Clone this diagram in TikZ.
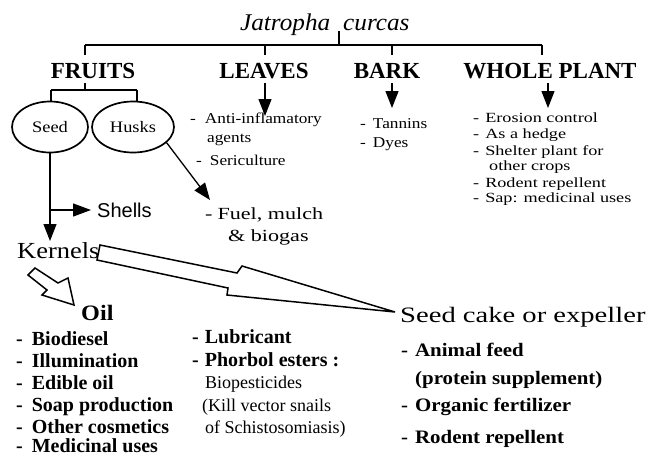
\documentclass[tikz,border=0pt]{standalone}
\usepackage{fontspec}
\setmainfont{Liberation Serif}
\newfontfamily\titlefont[FakeStretch=1.05]{Liberation Serif}
\newfontfamily\listfont[FakeStretch=1.15]{Liberation Serif}
\newfontfamily\widefont[FakeStretch=1.3]{Liberation Serif}
\newfontfamily\cakefont[FakeStretch=1.3]{Liberation Serif}
\newfontfamily\cakelist[FakeStretch=1.1]{Liberation Serif}
\newfontfamily\oilfont[FakeStretch=1.1]{Liberation Serif}
\newfontfamily\shellsfont{Liberation Sans}
\usetikzlibrary{arrows.meta,shapes.geometric}
\tikzset{
  ln/.style={line width=1.3pt},
  tri/.style={-{Triangle[length=17pt,width=13pt]}},
  headsty/.style={font=\fontsize{23}{25}\selectfont\bfseries, inner sep=0pt, anchor=base},
  txt/.style={inner sep=0pt, anchor=base west},
  leavesty/.style={txt, font=\listfont\fontsize{15}{18}\selectfont},
  wholesty/.style={txt, font=\widefont\fontsize{14}{16}\selectfont},
  fuelsty/.style={txt, font=\widefont\fontsize{17}{20}\selectfont},
  oilb/.style={txt, font=\fontsize{20}{22}\selectfont\bfseries},
  oilr/.style={txt, font=\fontsize{18}{22}\selectfont},
  cakeb/.style={txt, font=\cakelist\fontsize{19}{22}\selectfont\bfseries},
  oval/.style={ellipse, draw, line width=1.7pt, minimum height=51pt, inner sep=0pt,
               font=\listfont\fontsize{16}{18}\selectfont},
  hollow/.style={line width=1.5pt, fill=white, line join=miter}
}
\begin{document}
\begin{tikzpicture}[x=1pt,y=-1pt]
\useasboundingbox (0,0) rectangle (667,456);

% title and top bar
\node[txt, font=\titlefont\fontsize{24}{26}\selectfont\itshape] (title) at (240,30) {Jatropha\hspace{13pt}curcas};
\coordinate (tstub) at (339,31);
\coordinate (tbar) at (339,45);
\coordinate (b1) at (85,45);
\coordinate (b2) at (265,45);
\coordinate (b3) at (392,45);
\coordinate (b4) at (542,45);
\coordinate (d1) at (85,55);
\coordinate (d2) at (265,55);
\coordinate (d3) at (392,55);
\coordinate (d4) at (542,55);
\draw[ln] (tstub) -- (tbar);
\draw[ln] (b1) -- (b4);
\draw[ln] (b1) -- (d1);
\draw[ln] (b2) -- (d2);
\draw[ln] (b3) -- (d3);
\draw[ln] (b4) -- (d4);

% headings
\node[headsty] (fruits) at (93,78) {FRUITS};
\node[headsty] (leaves) at (264,78) {LEAVES};
\node[headsty] (bark) at (387,78) {BARK};
\node[headsty] (whole) at (550,78) {WHOLE PLANT};

% fruits branch
\node[oval, minimum width=76pt] (seed) at (50,127) {Seed};
\node[oval, minimum width=82pt] (husks) at (133,127) {Husks};
\coordinate (fs) at (85,83);
\coordinate (fj) at (85,90);
\coordinate (sb1) at (51,90);
\coordinate (sb2) at (137,90);
\draw[ln] (fs) -- (fj);
\draw[ln] (sb1) -- (sb2);
\draw[ln] (sb1) -- (sb1 |- seed.north);
\draw[ln] (sb2) -- (sb2 |- husks.north);

% seed -> kernels, shells
\coordinate (kertip) at (50,241);
\coordinate (shj) at (50,210);
\coordinate (shtip) at (91,210);
\draw[ln,tri] (seed.south) -- (kertip);
\draw[ln,-{Triangle[length=18pt,width=13pt]}] (shj) -- (shtip);
\node[txt, font=\shellsfont\fontsize{20}{22}\selectfont] (shells) at (97,217) {Shells};
\node[txt, font=\listfont\fontsize{23}{25}\selectfont] (kernels) at (17,258) {Kernels};

% husks -> fuel
\coordinate (fueltip) at (210,200);
\draw[ln,tri] (husks.-25) -- (fueltip);
\node[fuelsty] (fuel1) at (205,219) {-\hspace{5pt}Fuel, mulch};
\node[fuelsty] (fuel2) at (228,241) {\& biogas};

% leaves
\coordinate (lvs) at (265,83);
\coordinate (lvtip) at (265,116);
\draw[ln,tri] (lvs) -- (lvtip);
\node[leavesty] (anti) at (190,123) {-\hspace{9pt}Anti-inflamatory};
\node[leavesty] (agents) at (207,142) {agents};
\node[leavesty] (seri) at (196,165) {-\hspace{8pt}Sericulture};

% bark
\coordinate (bks) at (392,83);
\coordinate (bktip) at (392,108);
\draw[ln,tri] (bks) -- (bktip);
\node[leavesty] (tann) at (360,128) {-\hspace{7pt}Tannins};
\node[leavesty] (dyes) at (360,147) {-\hspace{7pt}Dyes};

% whole plant
\coordinate (wps) at (548,83);
\coordinate (wptip) at (548,108);
\draw[ln,tri] (wps) -- (wptip);
\node[wholesty] (w1) at (473,122) {-\hspace{6pt}Erosion control};
\node[wholesty] (w2) at (473,138) {-\hspace{6pt}As a hedge};
\node[wholesty] (w3) at (473,155) {-\hspace{6pt}Shelter plant for};
\node[wholesty] (w4) at (489,170) {other crops};
\node[wholesty] (w5) at (473,187) {-\hspace{6pt}Rodent repellent};
\node[wholesty] (w6) at (473,202) {-\hspace{6pt}Sap: medicinal uses};

% hollow arrows
\draw[hollow] (35,268) -- (58,283) -- (68,278) -- (74,305) -- (42,295) -- (47,290) -- (28,275) -- cycle;
\draw[hollow] (100,245) -- (237,273) -- (242,266) -- (395,312) -- (227,295) -- (228,288) -- (97,260) -- cycle;

% oil
\node[txt, font=\oilfont\fontsize{22}{24}\selectfont\bfseries] (oil) at (81,320) {Oil};
\node[oilb] (o1) at (16,345) {-\hspace{9pt}Biodiesel};
\node[oilb] (o2) at (16,367) {-\hspace{9pt}Illumination};
\node[oilb] (o3) at (16,389) {-\hspace{9pt}Edible oil};
\node[oilb] (o4) at (16,411) {-\hspace{9pt}Soap production};
\node[oilb] (o5) at (16,433) {-\hspace{9pt}Other cosmetics};
\node[oilb] (o6) at (16,452) {-\hspace{9pt}Medicinal uses};
\node[oilb] (p1) at (192,343) {-\hspace{6pt}Lubricant};
\node[oilb] (p2) at (192,366) {-\hspace{6pt}Phorbol esters :};
\node[oilr] (p3) at (205,388) {Biopesticides};
\node[oilr] (p4) at (202,411) {(Kill vector snails};
\node[oilr] (p5) at (205,433) {of Schistosomiasis)};

% seed cake
\node[txt, font=\cakefont\fontsize{22}{24}\selectfont] (cake) at (400,322) {Seed cake or expeller};
\node[cakeb] (c1) at (401,356) {-\hspace{7pt}Animal feed};
\node[cakeb] (c2) at (415,384) {(protein supplement)};
\node[cakeb] (c3) at (401,411) {-\hspace{7pt}Organic fertilizer};
\node[cakeb] (c4) at (401,443) {-\hspace{7pt}Rodent repellent};
\end{tikzpicture}
\end{document}
